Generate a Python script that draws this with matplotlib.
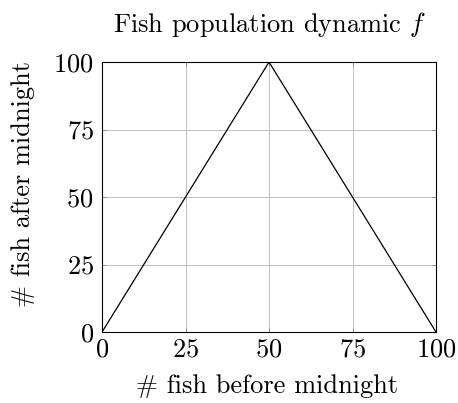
import matplotlib
matplotlib.use("Agg")
import matplotlib.pyplot as plt

# values
fish_before = [0, 50, 100]
fish_after = [0, 100, 0]
ticks = [0, 25, 50, 75, 100]

plt.rcParams["font.family"] = ["cmr10", "DejaVu Serif"]
plt.rcParams["mathtext.fontset"] = "cm"
plt.rcParams["axes.formatter.use_mathtext"] = True

fig = plt.figure(figsize=(4.58, 4.03), dpi=100)
ax = fig.add_axes([0.2227, 0.176, 0.7293, 0.670])

ax.plot(fish_before, fish_after, color="black", linewidth=0.9)
ax.set_xlim(0, 100)
ax.set_ylim(0, 100)
ax.set_xticks(ticks)
ax.set_yticks(ticks)
ax.grid(True, color="#bfbfbf", linewidth=0.7)
ax.tick_params(direction="in", length=3, width=0.6, color="#808080",
               top=True, right=True, labelsize=19)
ax.tick_params(axis="x", pad=4)
ax.tick_params(axis="y", pad=6)
for s in ax.spines.values():
    s.set_linewidth(0.8)

ax.set_xlabel("# fish before midnight", fontsize=19)
ax.set_ylabel("# fish after midnight", fontsize=19)
ax.xaxis.set_label_coords(0.495, -0.155)
ax.yaxis.set_label_coords(-0.20, 0.55)
ax.set_title("Fish population dynamic $f$", fontsize=19, pad=22)

fig.savefig("out.png", dpi=100)
